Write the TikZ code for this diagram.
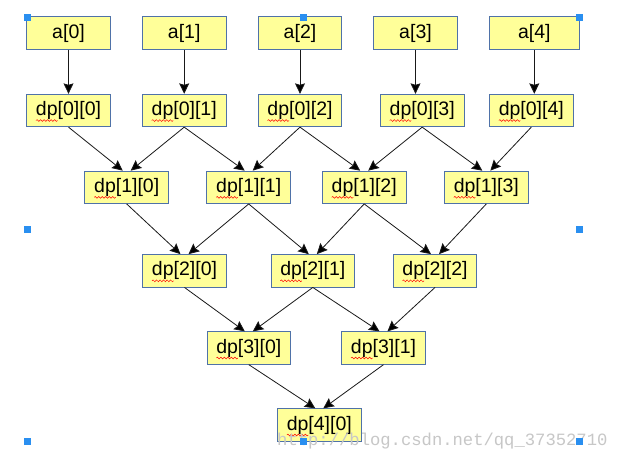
\documentclass[tikz,border=0pt]{standalone}
\usepackage{fontspec}
\setmainfont{Liberation Sans}
\newfontfamily\wmfont{Liberation Mono}
\usetikzlibrary{arrows.meta,calc,decorations.pathmorphing}
\definecolor{boxyellow}{HTML}{FFFF99}
\definecolor{boxblue}{HTML}{4F72A8}
\definecolor{handleblue}{HTML}{2A8FF0}
\tikzset{
  box/.style={draw=boxblue, fill=boxyellow, line width=0.8pt, minimum height=32.5pt,
    minimum width=83.7pt, inner sep=0pt, font=\fontsize{19.5}{22}\selectfont},
  conn/.style={draw=black!90, line width=0.8pt, -{Stealth[length=10.5pt,width=10pt,inset=1.5pt,fill=black]}},
  spell/.style={draw=red, line width=0.5pt, decorate, decoration={snake, amplitude=0.9pt, segment length=3.5pt}},
  handle/.style={fill=handleblue, draw=none, minimum size=7pt, inner sep=0pt}
}
\begin{document}
\begin{tikzpicture}[x=1pt,y=-1pt]
\fill[white] (0,0) rectangle (619,460);
\useasboundingbox (0,0) rectangle (619,460);
% top row
\node[box] (a0) at (68.5,33) {a[0]};
\node[box] (a1) at (184.2,33) {a[1]};
\node[box] (a2) at (300,33) {a[2]};
\node[box] (a3) at (415.5,33) {a[3]};
\node[box, minimum width=90pt] (a4) at (534.3,33) {a[4]};
% dp row 0
\node[box] (d00) at (68.5,110.5) {dp[0][0]};
\node[box] (d01) at (184.2,110.5) {dp[0][1]};
\node[box] (d02) at (300,110.5) {dp[0][2]};
\node[box] (d03) at (422.2,110.5) {dp[0][3]};
\node[box] (d04) at (531.3,110.5) {dp[0][4]};
% dp row 1
\node[box] (d10) at (126.7,187.3) {dp[1][0]};
\node[box] (d11) at (248.7,187.3) {dp[1][1]};
\node[box] (d12) at (364.2,187.3) {dp[1][2]};
\node[box] (d13) at (486.3,187.3) {dp[1][3]};
% dp row 2
\node[box] (d20) at (184.5,270.8) {dp[2][0]};
\node[box] (d21) at (312.8,270.8) {dp[2][1]};
\node[box] (d22) at (435,270.8) {dp[2][2]};
% dp row 3
\node[box] (d30) at (248.8,348) {dp[3][0]};
\node[box] (d31) at (383.5,348) {dp[3][1]};
% dp row 4
\node[box] (d40) at (319.3,425) {dp[4][0]};
% spelling underlines
\foreach \n in {d00,d01,d02,d03,d04,d10,d11,d12,d13,d20,d21,d22,d30,d31,d40}{
  \path[spell] ($(\n.base)+(-32.5,5)$) -- ($(\n.base)+(-11,5)$);
}
% vertical arrows
\foreach \i in {0,...,4}{
  \draw[conn] (a\i.south) -- (a\i.south |- d0\i.north);
}
% diagonal arrows
\foreach \r/\s/\c in {0/1/0,0/1/1,0/1/2,0/1/3,1/2/0,1/2/1,1/2/2,2/3/0,2/3/1,3/4/0}{
  \pgfmathtruncatemacro{\cc}{\c+1}
  \draw[conn] (d\r\c.south) -- ($(d\s\c.north)+(-4,0)$);
  \draw[conn] (d\r\cc.south) -- ($(d\s\c.north)+(4,0)$);
}
% watermark
\node[anchor=base west, inner sep=0pt, text=black!22, font=\wmfont\fontsize{17.2}{17.2}\selectfont] (wm) at (277,445) {http://blog.csdn.net/qq\_37352710};
% selection handles
\foreach \p [count=\k] in {(27.5,17.5),(303.3,17.5),(579.3,17.5),(27.5,229.3),(579.3,229.3),(27.5,441),(303.3,441),(579.3,441)}{
  \node[handle] (h\k) at \p {};
}
\end{tikzpicture}
\end{document}
